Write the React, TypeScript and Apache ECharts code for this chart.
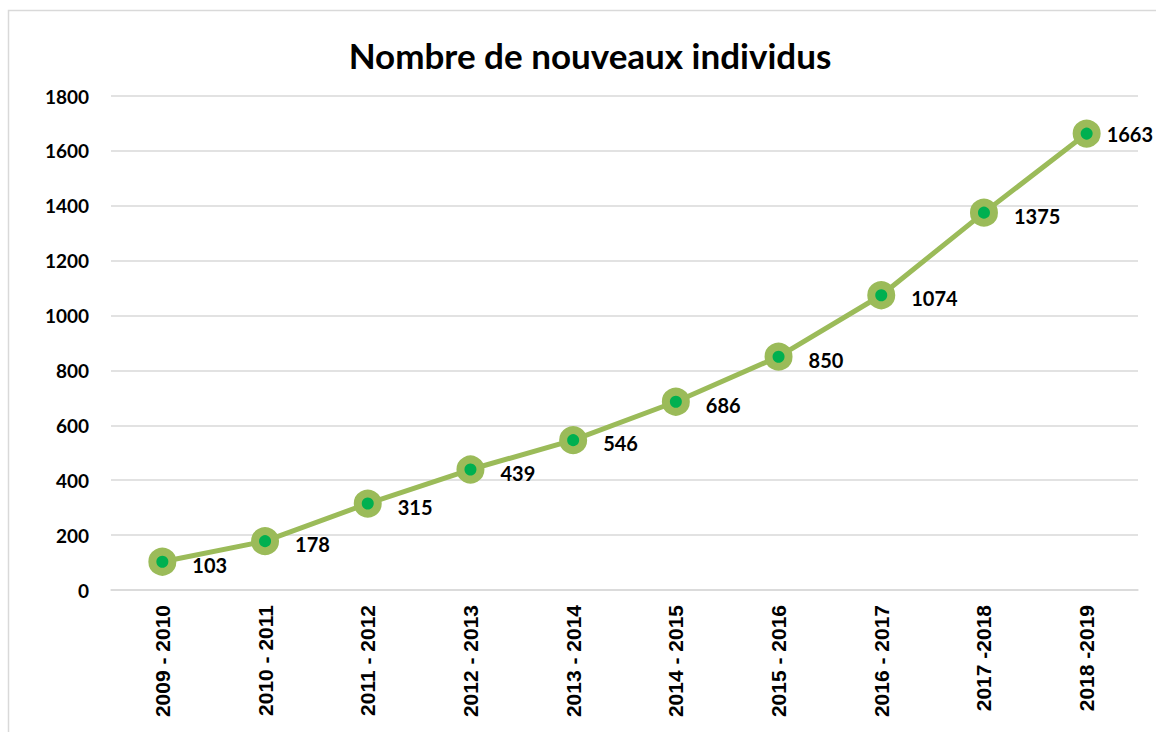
import React, { useEffect, useRef } from "react";
import * as echarts from "echarts";

const title = "Nombre de nouveaux individus";
const categories = [
  "2009 - 2010",
  "2010 - 2011",
  "2011 - 2012",
  "2012 - 2013",
  "2013 - 2014",
  "2014 - 2015",
  "2015 - 2016",
  "2016 - 2017",
  "2017 -2018",
  "2018 -2019",
];
const values = [103, 178, 315, 439, 546, 686, 850, 1074, 1375, 1663];
const yMin = 0;
const yMax = 1800;
const yInterval = 200;

export default function App() {
  const ref = useRef<HTMLDivElement>(null);
  useEffect(() => {
    if (!ref.current) return;
    const chart = echarts.init(ref.current, undefined, { renderer: "svg" });
    const last = values.length - 1;
    chart.setOption({
      animation: false,
      backgroundColor: "#ffffff",
      title: {
        text: title,
        left: 585,
        textAlign: "center",
        top: 32,
        textStyle: {
          fontFamily: "Lato",
          fontWeight: "bold",
          fontSize: 35,
          color: "#000000",
        },
      },
      graphic: [
        {
          type: "rect",
          shape: { x: 8.5, y: 10.5, width: 1180, height: 760 },
          style: { fill: "none", stroke: "#d9d9d9", lineWidth: 1.5 },
          silent: true,
        },
      ],
      grid: { left: 111, right: 18, top: 96, height: 494 },
      xAxis: {
        type: "category",
        data: categories,
        boundaryGap: true,
        axisLine: { show: true, lineStyle: { color: "#d9d9d9", width: 1.5 } },
        axisTick: { show: false },
        axisLabel: {
          rotate: 90,
          margin: 15,
          interval: 0,
          fontFamily: "Liberation Sans",
          fontWeight: "bold",
          fontSize: 21,
          color: "#000000",
        },
      },
      yAxis: {
        type: "value",
        min: yMin,
        max: yMax,
        interval: yInterval,
        axisLine: { show: false },
        axisTick: { show: false },
        splitLine: { lineStyle: { color: "#d9d9d9", width: 1.5 } },
        axisLabel: {
          margin: 22,
          formatter: (v: number) => String(v),
          fontFamily: "Lato",
          fontWeight: "bold",
          fontSize: 19,
          color: "#000000",
        },
      },
      series: [
        {
          type: "line",
          data: values.map((v, i) =>
            i === last
              ? { value: v, label: { distance: 6, offset: [0, 0] } }
              : v
          ),
          lineStyle: { color: "#9bbb59", width: 5 },
          symbol: "circle",
          symbolSize: 20,
          itemStyle: {
            color: "#00b050",
            borderColor: "#9bbb59",
            borderWidth: 8,
          },
          label: {
            show: true,
            position: "right",
            distance: 16,
            offset: [0, 3],
            fontFamily: "Lato",
            fontWeight: "bold",
            fontSize: 20,
            color: "#000000",
          },
        },
      ],
    });
    return () => chart.dispose();
  }, []);
  return (
    <div
      ref={ref}
      style={{ position: "absolute", left: 0, top: 0, width: 1156, height: 732 }}
    />
  );
}
